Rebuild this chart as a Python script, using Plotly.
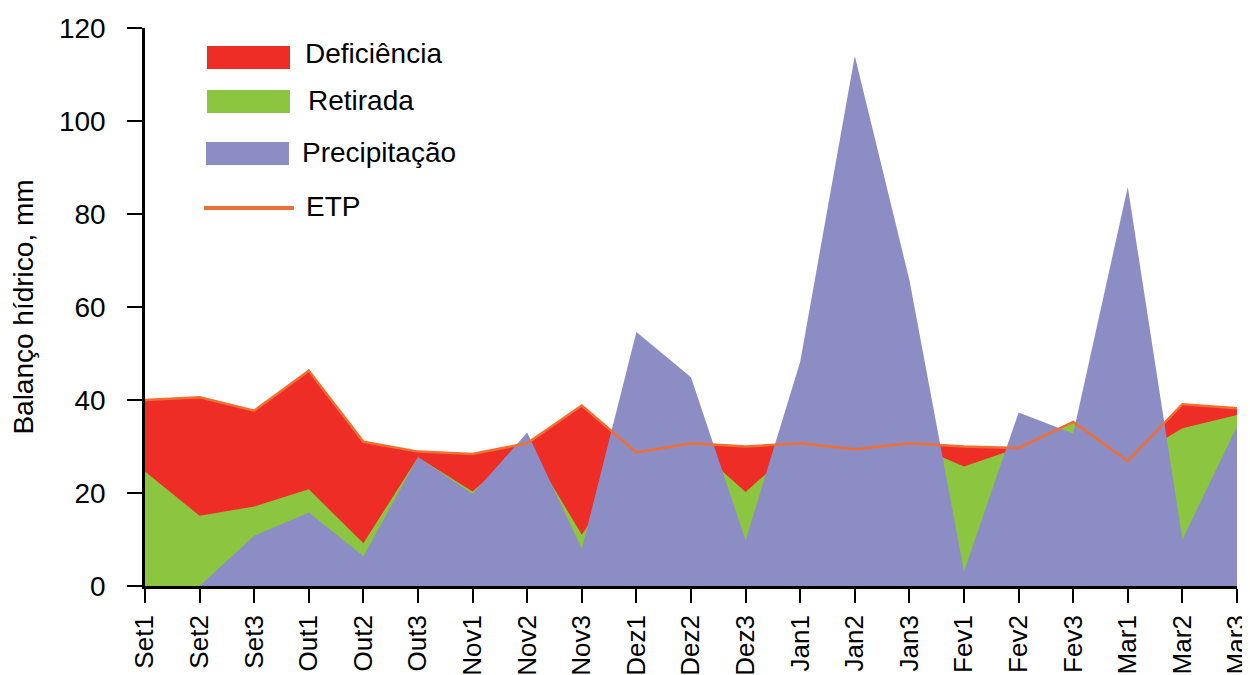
import plotly.graph_objects as go

categories = ["Set1", "Set2", "Set3", "Out1", "Out2", "Out3", "Nov1", "Nov2", "Nov3",
              "Dez1", "Dez2", "Dez3", "Jan1", "Jan2", "Jan3", "Fev1", "Fev2", "Fev3",
              "Mar1", "Mar2", "Mar3"]
etp = [40.0, 40.6, 37.7, 46.3, 31.0, 28.9, 28.4, 30.7, 38.8,
       28.7, 30.7, 30.0, 30.7, 29.4, 30.7, 30.0, 29.7, 35.3,
       26.9, 39.1, 38.2]
etr = [24.6, 15.1, 17.1, 20.8, 9.2, 27.7, 20.3, 30.7, 11.0,
       28.7, 30.7, 20.2, 30.7, 29.4, 30.7, 25.7, 29.7, 35.3,
       26.9, 33.9, 36.8]
precip = [0.0, 0.0, 10.8, 15.8, 6.4, 27.7, 19.8, 33.0, 8.0,
          54.6, 44.9, 9.8, 48.2, 114.0, 65.8, 3.1, 37.3, 32.8,
          85.8, 10.0, 34.3]
legend_labels = ["Deficiência", "Retirada", "Precipitação", "ETP"]

RED = "#EE2D27"
GREEN = "#8CC540"
PURPLE = "#8C8DC4"
ORANGE = "#F26E30"
FONT = "Liberation Sans, Arial, sans-serif"

fig = go.Figure()
fig.add_trace(go.Scatter(x=categories, y=etp, fill="tozeroy", mode="lines",
                         line=dict(width=0, color=RED), fillcolor=RED,
                         name=legend_labels[0], showlegend=False))
fig.add_trace(go.Scatter(x=categories, y=etr, fill="tozeroy", mode="lines",
                         line=dict(width=0, color=GREEN), fillcolor=GREEN,
                         name=legend_labels[1], showlegend=False))
fig.add_trace(go.Scatter(x=categories, y=precip, fill="tozeroy", mode="lines",
                         line=dict(width=0, color=PURPLE), fillcolor=PURPLE,
                         name=legend_labels[2], showlegend=False))
fig.add_trace(go.Scatter(x=categories, y=etp, mode="lines",
                         line=dict(width=2.5, color=ORANGE),
                         name=legend_labels[3], showlegend=False))

# page body adds an 8px offset; compensate so the plot lands where the reference has it
OFF = 8
W, H = 1250 - OFF, 675 - OFF
PL, PR, PT, PB = 145, 1237, 28, 586  # target plot-area edges in screen pixels
L, R, T, B = PL - OFF, (W + OFF) - PR, PT - OFF, (H + OFF) - PB
pw, ph = PR - PL, PB - PT


def px(x):
    return (x - PL) / pw


def py(y):
    return (PB - y) / ph


shapes = []
annotations = []
rects = [(207, 290, 46, 69, RED), (207, 290, 90, 113, GREEN), (206, 289, 142, 165, PURPLE)]
for x0, x1, y0, y1, c in rects:
    shapes.append(dict(type="rect", xref="paper", yref="paper",
                       x0=px(x0), x1=px(x1), y0=py(y1), y1=py(y0),
                       fillcolor=c, line=dict(width=0), layer="above"))
shapes.append(dict(type="line", xref="paper", yref="paper",
                   x0=px(204), x1=px(294), y0=py(208), y1=py(208),
                   line=dict(color=ORANGE, width=4), layer="above"))
text_pos = [(303, 53), (306, 100), (300, 152), (304, 207)]
for (tx, ty), lab in zip(text_pos, legend_labels):
    annotations.append(dict(xref="paper", yref="paper", x=px(tx), y=py(ty),
                            xanchor="left", yanchor="middle", text=lab,
                            showarrow=False, font=dict(size=28, color="black", family=FONT)))

fig.update_layout(
    width=W, height=H,
    margin=dict(l=L, r=R, t=T, b=B, pad=0),
    paper_bgcolor="white", plot_bgcolor="white",
    font=dict(family=FONT, size=26, color="black"),
    shapes=shapes, annotations=annotations,
    xaxis=dict(type="category", range=[0, 20], showgrid=False, zeroline=False,
               showline=True, linecolor="black", linewidth=2.5,
               ticks="outside", ticklen=14, tickwidth=2, tickcolor="black",
               tickangle=-90, tickfont=dict(size=26, family=FONT),
               ticklabelstandoff=2, automargin=False),
    yaxis=dict(range=[0, 120], dtick=20, showgrid=False, zeroline=False,
               showline=True, linecolor="black", linewidth=2.5,
               ticks="outside", ticklen=15, tickwidth=2, tickcolor="black",
               tickfont=dict(size=28, family=FONT), ticklabelstandoff=16,
               title=dict(text="Balanço hídrico, mm", font=dict(size=28, family=FONT),
                          standoff=22),
               automargin=False),
)

fig.write_html("out.html")
